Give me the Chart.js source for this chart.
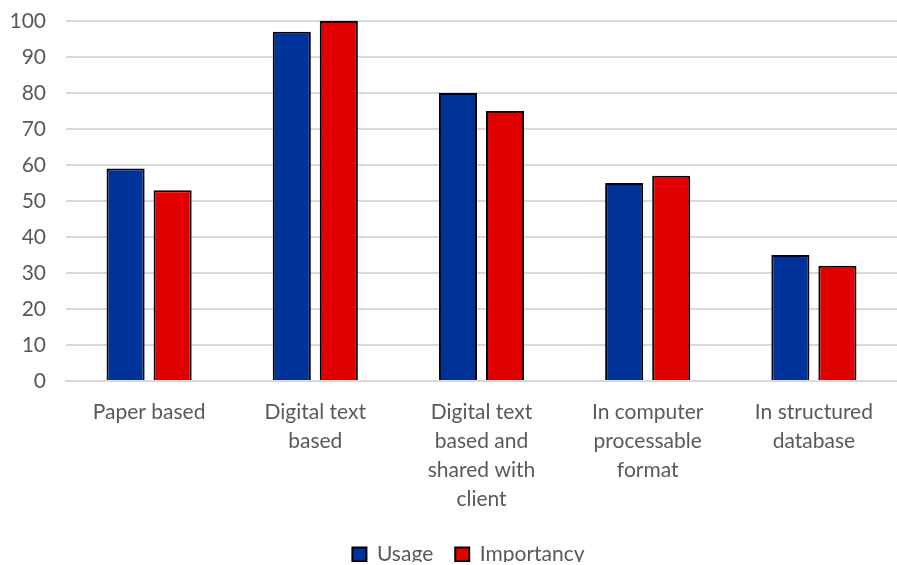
<!DOCTYPE html>
<html>
<head>
<meta charset="utf-8">
<script src="https://cdn.jsdelivr.net/npm/chart.js@4/dist/chart.umd.min.js"></script>
<style>
  html, body { margin: 0; padding: 0; background: #ffffff; }
  #wrap { width: 897px; height: 565px; position: relative; }
</style>
</head>
<body>
<div id="wrap"><canvas id="c"></canvas></div>
<script>
// Categories (multi-line labels) and the two series
const categories = [
  'Paper based',
  ['Digital text', 'based'],
  ['Digital text', 'based and', 'shared with', 'client'],
  ['In computer', 'processable', 'format'],
  ['In structured', 'database']
];
const usage = [59, 97, 80, 55, 35];
const importancy = [53, 100, 75, 57, 32];
const yTicks = [0, 10, 20, 30, 40, 50, 60, 70, 80, 90, 100];

const FONT = 'Lato, "Liberation Sans", sans-serif';
const TEXT = '#595959';
const GRID = '#d9d9d9';

// Nudges the legend box a little right and up after layout
const legendOffset = {
  id: 'legendOffset',
  beforeDraw(chart) {
    const lg = chart.legend;
    if (!lg) return;
    const dx = 20, dy = -3;
    lg.left += dx; lg.right += dx;
    lg.top += dy; lg.bottom += dy;
  }
};

new Chart(document.getElementById('c'), {
  type: 'bar',
  data: {
    labels: categories,
    datasets: [
      { label: 'Usage', data: usage, backgroundColor: '#003399', borderColor: '#000000', borderWidth: 2 },
      { label: 'Importancy', data: importancy, backgroundColor: '#e10000', borderColor: '#000000', borderWidth: 2 }
    ]
  },
  plugins: [legendOffset],
  options: {
    responsive: true,
    maintainAspectRatio: false,
    animation: false,
    categoryPercentage: 0.566,
    barPercentage: 0.81,
    layout: { padding: { top: 21, right: 0, bottom: 0, left: 0 } },
    plugins: {
      tooltip: { enabled: false },
      legend: {
        position: 'bottom',
        maxHeight: 40,
        labels: {
          font: { family: FONT, size: 21 },
          color: TEXT,
          boxWidth: 14,
          boxHeight: 14,
          padding: 22
        }
      }
    },
    scales: {
      x: {
        grid: { display: false },
        border: { color: GRID, width: 2 },
        afterFit: (s) => { s.paddingLeft = 0; s.paddingRight = 0; s.height = 144; },
        ticks: {
          color: TEXT,
          font: { family: FONT, size: 21, lineHeight: 1.38 },
          padding: 9,
          maxRotation: 0,
          autoSkip: false
        }
      },
      y: {
        min: 0,
        max: 100,
        afterBuildTicks: (s) => { s.ticks = yTicks.map(v => ({ value: v })); },
        afterFit: (s) => { s.width = 66; s.paddingTop = 0; s.paddingBottom = 0; },
        grid: { color: GRID, lineWidth: 2, drawTicks: false },
        border: { display: false },
        ticks: {
          color: TEXT,
          font: { family: FONT, size: 21 },
          padding: 20
        }
      }
    }
  }
});
</script>
</body>
</html>
